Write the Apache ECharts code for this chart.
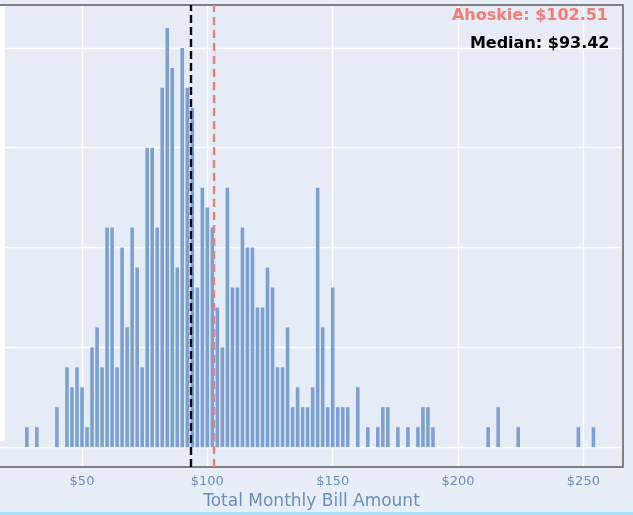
<!DOCTYPE html>
<html>
<head>
<meta charset="utf-8">
<script src="https://cdn.jsdelivr.net/npm/echarts@6/dist/echarts.min.js"></script>
<style>
html,body{margin:0;padding:0;background:#e7eef7;}
#chart{width:633px;height:515px;}
</style>
</head>
<body>
<div id="chart"></div>
<script>
// bin centres ($, bins are $2 wide) and counts
var binCenters = [28,32,40,44,46,48,50,52,54,56,58,60,62,64,66,68,70,72,74,76,78,80,
	82,84,86,88,90,92,94,96,98,100,102,104,106,108,110,112,114,116,118,120,122,124,126,
	128,130,132,134,136,138,140,142,144,146,148,150,152,154,156,160,164,168,170,172,176,
	180,184,186,188,190,212,216,224,248,254];
var binCounts = [1,1,2,4,3,4,3,1,5,6,4,11,11,4,10,6,11,9,4,15,15,11,
	18,21,19,9,20,18,17,8,13,12,11,7,5,13,8,8,11,10,10,7,7,9,8,
	4,4,6,2,3,2,2,3,13,6,2,8,2,2,2,3,1,1,2,2,1,
	1,1,2,2,1,1,2,1,1,1];
var medianValue = 93.42;
var ahoskieValue = 102.51;
var xRange = [17.29, 265.8];
var yRange = [-1, 22.15];

var labelColor = '#6a8dc2';
var frameColor = '#808080';

var barData = [];
for(var i=0;i<binCenters.length;i++){
	barData.push([binCenters[i], binCounts[i]]);
}

var chart = echarts.init(document.getElementById('chart'));
var option = {
	backgroundColor: '#e7eef7',
	animation: false,
	textStyle: {fontFamily: 'DejaVu Sans'},
	grid: {
		left: 0, right: 10, top: 5, bottom: 47,
		show: true, backgroundColor: '#e5ecf6', borderWidth: 0
	},
	xAxis: [{
		type: 'value',
		min: xRange[0], max: xRange[1],
		splitNumber: 5,
		axisLine: {show: true, onZero: false, lineStyle: {color: frameColor, width: 2}},
		axisTick: {show: false},
		axisLabel: {
			color: labelColor, fontSize: 13, margin: 8,
			showMinLabel: false, showMaxLabel: false,
			formatter: function(v){ return '$' + v; }
		},
		splitLine: {show: true, showMinLine: false, showMaxLine: false, lineStyle: {color: '#ffffff', width: 1.3}},
		name: 'Total Monthly Bill Amount',
		nameLocation: 'middle',
		nameGap: 24,
		nameTextStyle: {color: labelColor, fontSize: 17}
	},{
		// mirrored frame line on top
		type: 'value', position: 'top',
		min: xRange[0], max: xRange[1],
		axisLine: {show: true, onZero: false, lineStyle: {color: frameColor, width: 2}},
		axisTick: {show: false}, axisLabel: {show: false}, splitLine: {show: false}
	}],
	yAxis: [{
		type: 'value',
		min: yRange[0], max: yRange[1],
		splitNumber: 5,
		axisLine: {show: false},
		axisTick: {show: false},
		axisLabel: {show: false},
		splitLine: {show: true, showMinLine: false, showMaxLine: false, lineStyle: {color: '#ffffff', width: 1.3}}
	},{
		// mirrored frame line on the right
		type: 'value', position: 'right',
		min: yRange[0], max: yRange[1],
		axisLine: {show: true, onZero: false, lineStyle: {color: frameColor, width: 2}},
		axisTick: {show: false}, axisLabel: {show: false}, splitLine: {show: false}
	}],
	series: [{
		type: 'bar',
		data: barData,
		barWidth: 3.6,
		itemStyle: {color: '#7da0d2'},
		markLine: {
			silent: true,
			symbol: ['none','none'],
			label: {show: false},
			data: [
				{xAxis: medianValue, lineStyle: {color: '#000000', type: [8,4], width: 2.4}},
				{xAxis: ahoskieValue, lineStyle: {color: '#f77b72', type: [8,5], width: 2.4}}
			]
		}
	}],
	graphic: [
		{type: 'rect', z: 100, shape: {x: 0, y: 6, width: 5, height: 435}, style: {fill: '#ffffff'}},
		{type: 'rect', z: 100, shape: {x: 0, y: 512, width: 633, height: 3}, style: {fill: '#a5e3f8'}},
		{type: 'text', z: 100, style: {
			text: 'Ahoskie: $' + ahoskieValue.toFixed(2), x: 608, y: 16,
			align: 'right', verticalAlign: 'middle', textAlign: 'right', textVerticalAlign: 'middle',
			font: 'bold 16px "DejaVu Sans"', fill: '#f77b72'
		}},
		{type: 'text', z: 100, style: {
			text: 'Median: $' + medianValue.toFixed(2), x: 609.5, y: 44,
			align: 'right', verticalAlign: 'middle', textAlign: 'right', textVerticalAlign: 'middle',
			font: 'bold 16px "DejaVu Sans"', fill: '#000000'
		}}
	]
};
chart.setOption(option);
</script>
</body>
</html>
